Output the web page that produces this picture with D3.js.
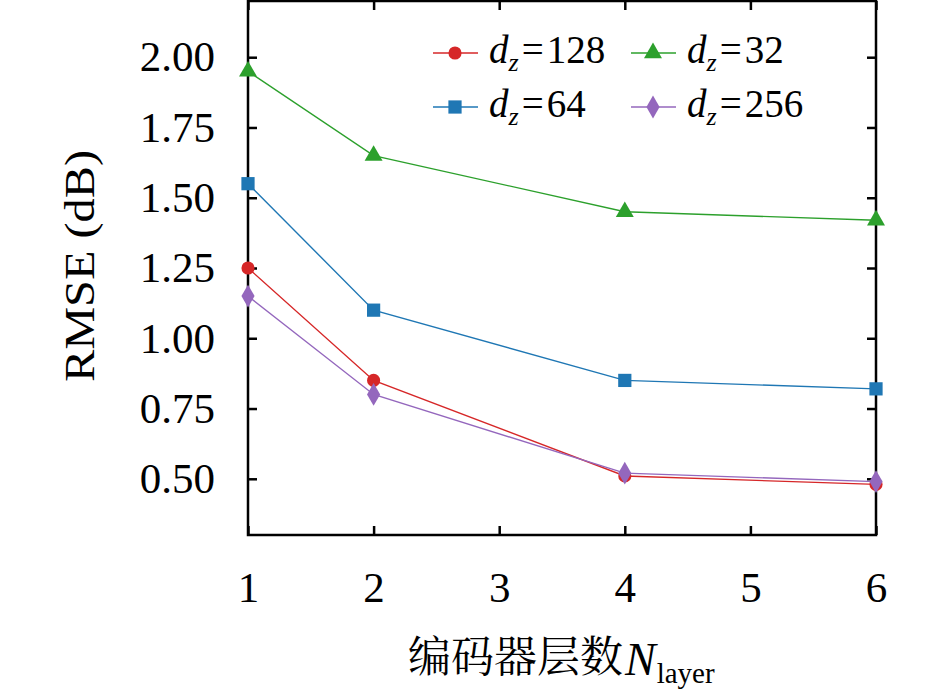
<!DOCTYPE html>
<html>
<head>
<meta charset="utf-8">
<script src="https://cdn.jsdelivr.net/npm/d3@7"></script>
<style>
  body { margin: 0; background: #fff; }
  svg { display: block; }
</style>
</head>
<body>
<svg width="945" height="694"></svg>
<script>
// data
const layers = [1, 2, 4, 6];
const dz128 = [1.25, 0.85, 0.51, 0.48];
const dz64  = [1.55, 1.10, 0.85, 0.82];
const dz32  = [1.95, 1.65, 1.45, 1.42];
const dz256 = [1.15, 0.80, 0.52, 0.49];
const xTicks = [1, 2, 3, 4, 5, 6];
const yTicks = [0.50, 0.75, 1.00, 1.25, 1.50, 1.75, 2.00];

const serif = "'Liberation Serif'";

const series = [
  { name: "128", values: dz128, color: "#d62728", shape: d3.symbolCircle,   size: 135 },
  { name: "64",  values: dz64,  color: "#1f77b4", shape: d3.symbolSquare,   size: 175 },
  { name: "32",  values: dz32,  color: "#2ca02c", shape: d3.symbolTriangle, size: 140 },
  { name: "256", values: dz256, color: "#9467bd", shape: d3.symbolDiamond,  size: 150 }
];

const svg = d3.select("svg");
const mLeft = 248, mRight = 876, mTop = 1, mBottom = 535;

const x = d3.scaleLinear().domain([1, 6]).range([mLeft, mRight]);
const y = d3.scaleLinear().domain([0.3, 2.2]).range([mBottom, mTop]);

// axes, ticks pointing inward
svg.append("g").attr("transform", `translate(0,${mBottom})`)
  .call(d3.axisBottom(x).tickValues(xTicks).tickSize(-9).tickPadding(36).tickFormat(d3.format("d")));
svg.append("g").attr("transform", `translate(${mLeft},0)`)
  .call(d3.axisLeft(y).tickValues(yTicks).tickSize(-9).tickPadding(33).tickFormat(d3.format(".2f")));
svg.append("g").attr("transform", `translate(0,${mTop})`)
  .call(d3.axisTop(x).tickValues(xTicks).tickSize(-9).tickFormat(""));
svg.append("g").attr("transform", `translate(${mRight},0)`)
  .call(d3.axisRight(y).tickValues(yTicks).tickSize(-9).tickFormat(""));

svg.selectAll(".domain").remove();
svg.selectAll(".tick line").attr("stroke", "#000").attr("stroke-width", 2.5);
svg.selectAll(".tick text")
  .style("font-family", serif)
  .style("font-size", "43px")
  .attr("fill", "#000");

svg.append("rect")
  .attr("x", mLeft).attr("y", mTop)
  .attr("width", mRight - mLeft).attr("height", mBottom - mTop)
  .attr("fill", "none").attr("stroke", "#000").attr("stroke-width", 2.5);

// lines and markers
const line = d3.line()
  .x((d, i) => x(layers[i]))
  .y(d => y(d));

series.forEach(s => {
  svg.append("path")
    .attr("d", line(s.values))
    .attr("fill", "none")
    .attr("stroke", s.color)
    .attr("stroke-width", 1.4);
  svg.selectAll(null)
    .data(s.values)
    .join("path")
    .attr("d", d3.symbol().type(s.shape).size(s.size))
    .attr("transform", (d, i) => `translate(${x(layers[i])},${y(d)})`)
    .attr("fill", s.color);
});

// legend
const legendPos = [
  { x: 433, y: 53 },  // 128
  { x: 433, y: 107 }, // 64
  { x: 631, y: 53 },  // 32
  { x: 631, y: 107 }  // 256
];
series.forEach((s, i) => {
  const p = legendPos[i];
  const g = svg.append("g").attr("transform", `translate(${p.x},${p.y})`);
  g.append("line").attr("x1", 0).attr("x2", 45).attr("y1", 0).attr("y2", 0)
    .attr("stroke", s.color).attr("stroke-width", 1.4);
  g.append("path")
    .attr("d", d3.symbol().type(s.shape).size(s.size))
    .attr("transform", "translate(22,0)")
    .attr("fill", s.color);
  const t = g.append("text").attr("x", 56).attr("y", 10)
    .style("font-family", serif).style("font-size", "39px").attr("fill", "#000");
  t.append("tspan").style("font-style", "italic").text("d");
  t.append("tspan").style("font-style", "italic").style("font-size", "26px").attr("dy", 8).text("z");
  t.append("tspan").attr("dy", -8).attr("dx", 3).text("=");
  t.append("tspan").attr("dx", 3).text(s.name);
});

// axis titles
svg.append("text")
  .attr("transform", `translate(94,266) rotate(-90)`)
  .attr("text-anchor", "middle")
  .attr("textLength", 232)
  .attr("lengthAdjust", "spacingAndGlyphs")
  .style("font-family", serif)
  .style("font-size", "42px")
  .attr("fill", "#000")
  .text("RMSE (dB)");

const xt = svg.append("text")
  .attr("x", 408).attr("y", 672)
  .style("font-family", serif)
  .attr("fill", "#000");
xt.append("tspan").style("font-family", "'Noto Serif CJK SC'").style("font-size", "43px").text("编码器层数");
xt.append("tspan").style("font-style", "italic").style("font-size", "46px").attr("dx", 2).attr("dy", 3).text("N");
xt.append("tspan").style("font-size", "29px").attr("dy", 8).attr("dx", 1).text("layer");
</script>
</body>
</html>
